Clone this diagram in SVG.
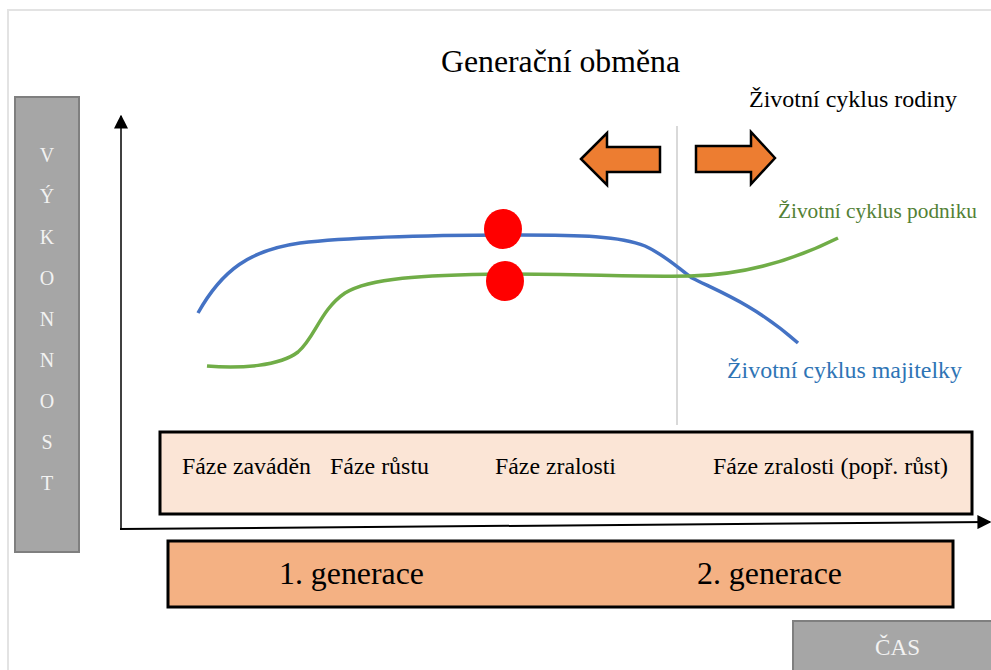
<svg xmlns="http://www.w3.org/2000/svg" width="991" height="670" viewBox="0 0 991 670" font-family="Liberation Serif, Times New Roman, Nimbus Roman, FreeSerif, DejaVu Serif, serif">
  <style>
    .axislabel { fill: #f2f2f2; font-size: 20px; text-anchor: middle; }
    .graybox { fill: #a6a6a6; stroke: #7f7f7f; stroke-width: 2; }
    .phase { fill: #000; font-size: 23px; }
    .gen { fill: #000; font-size: 31px; }
    .shift { fill: #ed7d31; stroke: #000; stroke-width: 2.5; stroke-linejoin: miter; }
    .curve { fill: none; stroke-width: 3.5; stroke-linecap: butt; }
    .dot { fill: #ff0000; }
  </style>
  <defs>
    <marker id="arrowBig" viewBox="0 0 10 10" refX="9" refY="5" markerWidth="14" markerHeight="14" markerUnits="userSpaceOnUse" orient="auto">
      <path d="M0,0 L10,5 L0,10 Z" fill="#000"/>
    </marker>
  </defs>

  <rect width="991" height="670" fill="#fff"/>
  <!-- page frame -->
  <rect x="8" y="10" width="1000" height="700" fill="none" stroke="#e3e3e3" stroke-width="2"/>

  <!-- title -->
  <g id="title">
    <text x="441" y="72" font-size="31" fill="#000" textLength="239" lengthAdjust="spacingAndGlyphs">Generační obměna</text>
  </g>
  <g id="family-cycle">
    <text x="749" y="107" font-size="23" fill="#000" textLength="208" lengthAdjust="spacingAndGlyphs">Životní cyklus rodiny</text>
  </g>

  <!-- vertical axis label -->
  <g id="performance">
    <rect class="graybox" x="15" y="97" width="64" height="455"/>
    <text class="axislabel" x="47" y="162">V</text>
    <text class="axislabel" x="47" y="203">Ý</text>
    <text class="axislabel" x="47" y="244">K</text>
    <text class="axislabel" x="47" y="285">O</text>
    <text class="axislabel" x="47" y="326">N</text>
    <text class="axislabel" x="47" y="367">N</text>
    <text class="axislabel" x="47" y="408">O</text>
    <text class="axislabel" x="47" y="449">S</text>
    <text class="axislabel" x="47" y="490">T</text>
  </g>

  <!-- horizontal axis label -->
  <g id="time">
    <rect class="graybox" x="793" y="621" width="210" height="60"/>
    <text x="875" y="655" font-size="23" fill="#f2f2f2" textLength="45" lengthAdjust="spacingAndGlyphs">ČAS</text>
  </g>

  <!-- divider between the generations -->
  <g id="divider">
    <line x1="677" y1="126" x2="677" y2="425" stroke="#d9d9d9" stroke-width="2"/>
  </g>

  <!-- hand-over arrows -->
  <g id="arrow-left">
    <path class="shift" d="M581,159 L607,133 L607,147 L660,147 L660,172 L607,172 L607,185 Z"/>
  </g>
  <g id="arrow-right">
    <path class="shift" d="M775,158 L751,132 L751,146 L696,146 L696,172 L751,172 L751,184 Z"/>
  </g>

  <!-- axes -->
  <g id="connectors">
    <line x1="121" y1="530" x2="121" y2="116" stroke="#000" stroke-width="1.5" marker-end="url(#arrowBig)"/>
    <line x1="120" y1="529" x2="990" y2="522" stroke="#000" stroke-width="2" marker-end="url(#arrowBig)"/>
  </g>

  <!-- life cycle curves -->
  <g id="owner-curve">
    <path class="curve" stroke="#4472c4" d="M198,313 C222,270 250,250 300,243 C360,236 440,235 520,235 C580,235 620,236 645,246 C665,255 678,268 692,278 C720,292 755,305 798,343"/>
  </g>
  <g id="business-curve">
    <path class="curve" stroke="#70ad47" d="M207,366 C240,369 280,366 298,352 C315,338 320,310 345,293 C370,278 420,275 505,274 C580,274 640,277 690,276 C740,275 790,262 838,238"/>
  </g>

  <g id="business-label">
    <text x="778" y="218" font-size="21" fill="#538135" textLength="199" lengthAdjust="spacingAndGlyphs">Životní cyklus podniku</text>
  </g>
  <g id="owner-label">
    <text x="727" y="378" font-size="24" fill="#2e74b5" textLength="235" lengthAdjust="spacingAndGlyphs">Životní cyklus majitelky</text>
  </g>

  <!-- succession points -->
  <g id="point-owner">
    <ellipse class="dot" cx="503" cy="229" rx="19" ry="20"/>
  </g>
  <g id="point-business">
    <ellipse class="dot" cx="505" cy="281" rx="19" ry="20"/>
  </g>

  <!-- phases -->
  <g id="phases">
    <rect x="160" y="432" width="812" height="82" fill="#fbe5d6" stroke="#000" stroke-width="3"/>
    <text class="phase" x="182" y="474" textLength="129" lengthAdjust="spacingAndGlyphs">Fáze zaváděn</text>
    <text class="phase" x="330" y="474" textLength="99" lengthAdjust="spacingAndGlyphs">Fáze růstu</text>
    <text class="phase" x="495" y="474" textLength="121" lengthAdjust="spacingAndGlyphs">Fáze zralosti</text>
    <text class="phase" x="713" y="474" textLength="235" lengthAdjust="spacingAndGlyphs">Fáze zralosti (popř. růst)</text>
  </g>

  <!-- generations -->
  <g id="generations">
    <rect x="168" y="541" width="785" height="66" fill="#f4b183" stroke="#000" stroke-width="3"/>
    <text class="gen" x="279" y="584" textLength="145" lengthAdjust="spacingAndGlyphs">1. generace</text>
    <text class="gen" x="697" y="584" textLength="145" lengthAdjust="spacingAndGlyphs">2. generace</text>
  </g>
</svg>
